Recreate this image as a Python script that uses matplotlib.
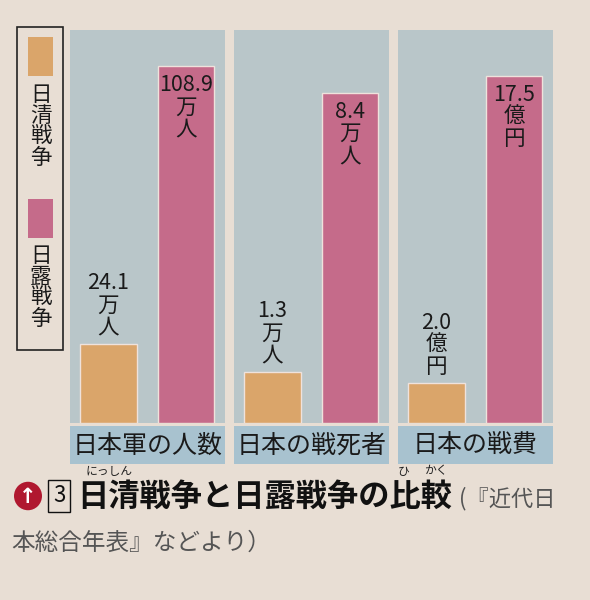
import matplotlib.pyplot as plt
from matplotlib.patches import Rectangle, Circle

plt.rcParams['font.family'] = ['Noto Sans CJK JP', 'DejaVu Sans']

# data
categories = ['日本軍の人数', '日本の戦死者', '日本の戦費']
wars = ['日清戦争', '日露戦争']
sino = [24.1, 1.3, 2.0]
russo = [108.9, 8.4, 17.5]
units = ['万人', '万人', '億円']
value_text = [['24.1', '1.3', '2.0'], ['108.9', '8.4', '17.5']]

# each panel has its own scale (as in the original)
ytops = [119.9, 10.0, 19.8]

paper = '#e8ded4'
panel_bg = '#b9c6c9'
label_bg = '#a8c2cf'
c_sino = '#daa56a'
c_russo = '#c56b8a'

W, H = 590, 600
fig = plt.figure(figsize=(W / 100, H / 100), dpi=100, facecolor=paper)


def fx(px):
    return px / W


def fy(py):
    return 1 - py / H


panel_left = [70, 234, 398]
panel_w = 155
top, bottom = 30, 423

for i in range(3):
    ax = fig.add_axes([fx(panel_left[i]), fy(bottom), fx(panel_w), (bottom - top) / H])
    ax.set_facecolor(panel_bg)
    ax.bar([0, 1], [sino[i], russo[i]], width=0.73, color=[c_sino, c_russo],
           edgecolor='#efe2dc', linewidth=1.0)
    ax.set_xlim(-0.49, 1.5)
    ax.set_ylim(0, ytops[i])
    for s in ax.spines.values():
        s.set_visible(False)
    ax.set_xticks([])
    ax.set_yticks([])
    # value labels
    u = units[i]
    ax.annotate(value_text[0][i] + '\n' + u[0] + '\n' + u[1], (0, sino[i]),
                xytext=(0, 4), textcoords='offset points', ha='center', va='bottom',
                fontsize=15.5, linespacing=1.0, color='#1a1a1a')
    ax.annotate(value_text[1][i] + '\n' + u[0] + '\n' + u[1], (1, russo[i]),
                xytext=(0, -6), textcoords='offset points', ha='center', va='top',
                fontsize=15.5, linespacing=1.0, color='#1a1a1a')
    # category label box
    fig.patches.append(Rectangle((fx(panel_left[i]), fy(464)), fx(panel_w), 38 / H,
                                 transform=fig.transFigure, facecolor=label_bg,
                                 edgecolor='none'))
    fig.text(fx(panel_left[i] + panel_w / 2), fy(446), categories[i], ha='center',
             va='center', fontsize=18, color='#1a1a1a')

# legend
fig.patches.append(Rectangle((fx(17), fy(350)), fx(46), 323 / H, transform=fig.transFigure,
                             facecolor='none', edgecolor='#222222', linewidth=1.2))
for j, (c, y0, ty) in enumerate([(c_sino, 37, 84), (c_russo, 199, 245)]):
    fig.patches.append(Rectangle((fx(28), fy(y0 + 39)), fx(25), 39 / H,
                                 transform=fig.transFigure, facecolor=c, edgecolor='none'))
    fig.text(fx(40.5), fy(ty), '\n'.join(wars[j]), ha='center', va='top',
             fontsize=15.5, linespacing=0.95, color='#1a1a1a')

# caption
fig.patches.append(Circle((fx(28), fy(496)), 14 / W, transform=fig.transFigure,
                          facecolor='#b0182f', edgecolor='none'))
fig.text(fx(28), fy(497), '↑', ha='center', va='center', fontsize=15,
         fontweight='bold', color='white', family='DejaVu Sans')
fig.text(fx(59), fy(496), '3', ha='center', va='center', fontsize=16, color='#111111',
         bbox=dict(boxstyle='square,pad=0.2', facecolor='none', edgecolor='#111111',
                   linewidth=1.0))
fig.text(fx(77), fy(497), '日清戦争と日露戦争の比較', ha='left', va='center',
         fontsize=22.5, fontweight='bold', color='#111111')
fig.text(fx(459), fy(499), '(『近代日', ha='left', va='center', fontsize=16,
         color='#555555')
fig.text(fx(11), fy(543), '本総合年表』などより）', ha='left', va='center', fontsize=17,
         color='#555555')
fig.text(fx(109), fy(471), 'にっしん', ha='center', va='center', fontsize=8.5, color='#222222')
fig.text(fx(404), fy(471), 'ひ', ha='center', va='center', fontsize=8.5, color='#222222')
fig.text(fx(436), fy(471), 'かく', ha='center', va='center', fontsize=8.5, color='#222222')

fig.savefig('out.png', dpi=100, facecolor=paper)
